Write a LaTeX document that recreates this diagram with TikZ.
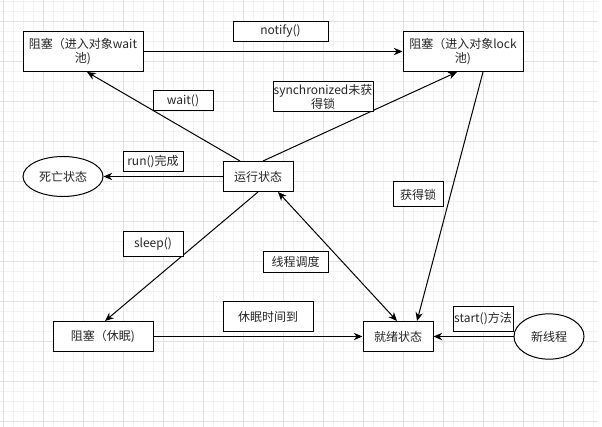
\documentclass[tikz,border=0pt]{standalone}
\usepackage{fontspec}
\setmainfont{Noto Sans CJK SC}
\usetikzlibrary{shapes.geometric,arrows.meta,positioning,shadows}
\definecolor{gridminor}{HTML}{F2F2F2}
\definecolor{gridmajor}{HTML}{E2E2E2}
\definecolor{txtgray}{HTML}{262626}
\tikzset{
  box style/.style={rectangle, draw, line width=0.75pt, fill=white, inner sep=0pt,
    align=center, text=txtgray, font=\fontsize{9pt}{10.5pt}\selectfont},
  lbl style/.style={box style},
  ell style/.style={ellipse, draw, line width=0.75pt, fill=white, inner sep=0pt,
    text=txtgray, font=\fontsize{9pt}{10.5pt}\selectfont},
  arr style/.style={-{Stealth[length=6.5pt,width=5.5pt,inset=2pt]}, line width=0.75pt},
  darr style/.style={{Stealth[length=6.5pt,width=5.5pt,inset=2pt]}-{Stealth[length=6.5pt,width=5.5pt,inset=2pt]}, line width=0.75pt}
}
\begin{document}
\begin{tikzpicture}[x=0.75pt, y=-0.75pt]
\useasboundingbox (0,0) rectangle (602,427);
% grid
\foreach \x in {3,13,...,593} \draw[gridminor, line width=0.75pt] (\x,0) -- (\x,427);
\foreach \y in {1.7,11.7,...,421.7} \draw[gridminor, line width=0.75pt] (0,\y) -- (598,\y);
\foreach \x in {3,43,...,563} \draw[gridmajor, line width=0.75pt] (\x,0) -- (\x,427);
\foreach \y in {21.7,61.7,...,421.7} \draw[gridmajor, line width=0.75pt] (0,\y) -- (598,\y);

% states
\node[box style, minimum width=90pt, minimum height=30pt] (waitpool) at (83,51.5) {阻塞（进入对象wait\\池)};
\node[box style, minimum width=90pt, minimum height=30pt] (lockpool) at (463,51.5) {阻塞（进入对象lock\\池)};
\node[box style, minimum width=52.5pt, minimum height=22.5pt] (running) at (258,176.5) {运行状态};
\node[ell style, minimum width=60pt, minimum height=30pt] (dead) at (63,176.5) {死亡状态};
\node[box style, minimum width=75pt, minimum height=22.5pt] (sleeping) at (103,336.5) {阻塞（休眠)};
\node[box style, minimum width=52.5pt, minimum height=22.5pt] (ready) at (398,336.5) {就绪状态};
\node[ell style, minimum width=52.5pt, minimum height=34pt, right=60pt of ready] (newthr) {新线程};

% transitions
\draw[arr style] (waitpool) -- (lockpool);
\draw[arr style] ([xshift=-13.5pt]running.north) -- ([xshift=3pt]waitpool.south);
\draw[arr style] ([xshift=3.75pt]running.north) -- ([xshift=-4.5pt]lockpool.south);
\draw[arr style] (running) -- (dead);
\draw[arr style] (running.south) -- ([xshift=1.5pt]sleeping.north);
\draw[darr style] ([xshift=15pt]running.south) -- ([xshift=-0.75pt]ready.north);
\draw[arr style] ([xshift=15pt]lockpool.south) -- ([xshift=14.25pt]ready.north);
\draw[arr style] (sleeping) -- (ready);
\draw[arr style] (newthr) -- (ready);

% labels
\node[lbl style, minimum width=71.25pt, minimum height=15pt] (notifylbl) at (280.5,31.5) {notify()};
\node[lbl style, minimum width=45pt, minimum height=15pt] (waitlbl) at (183,101) {wait()};
\node[lbl style, minimum width=75pt, minimum height=22.5pt] (synclbl) at (323,97) {synchronized未获\\得锁};
\node[lbl style, minimum width=45pt, minimum height=15pt] (runlbl) at (153,161.5) {run()完成};
\node[lbl style, minimum width=37.5pt, minimum height=18.75pt] (locklbl) at (418,194.5) {获得锁};
\node[lbl style, minimum width=45pt, minimum height=19pt] (sleeplbl) at (153,244) {sleep()};
\node[lbl style, minimum width=48.75pt, minimum height=15pt,
  drop shadow={shadow xshift=0.4pt, shadow yshift=-1pt, fill=gray!70}] (schedlbl) at (295.5,262) {线程调度};
\node[lbl style, minimum width=67.5pt, minimum height=22.5pt] (wakelbl) at (268,316.5) {休眠时间到};
\node[lbl style, minimum width=45pt, minimum height=18.75pt] (startlbl) at (483,318.5) {start()方法};
\end{tikzpicture}
\end{document}
